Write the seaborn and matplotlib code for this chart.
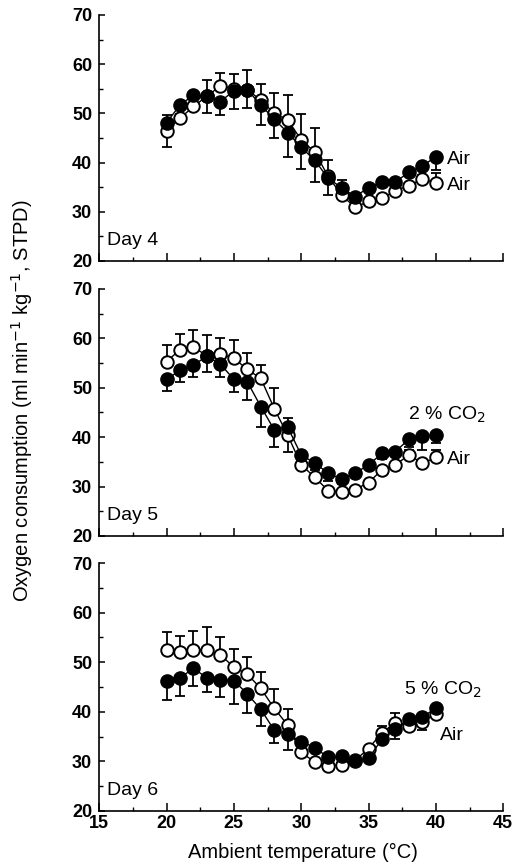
import numpy as np
import pandas as pd
import matplotlib
matplotlib.use("Agg")
import matplotlib.pyplot as plt
import seaborn as sns
from matplotlib.ticker import MultipleLocator

sns.set_theme(style="ticks")
plt.rcParams['font.family'] = ['Liberation Sans', 'DejaVu Sans']
plt.rcParams['text.color'] = 'black'
plt.rcParams['xtick.color'] = 'black'
plt.rcParams['ytick.color'] = 'black'
plt.rcParams['xtick.labelcolor'] = 'black'
plt.rcParams['ytick.labelcolor'] = 'black'

temperature = list(range(20, 41))

day4_open = [46.5, 49.0, 51.4, 53.5, 55.6, 55.0, 54.8, 52.7, 50.0, 48.7, 44.6, 42.2, 37.2, 33.4, 30.9, 32.1, 32.7, 34.3, 35.3, 36.7, 35.8]
day4_open_err = [3.2, 0.8, 0.6, 3.3, 2.7, 3.1, 4.0, 3.3, 4.1, 5.0, 5.3, 4.8, 3.3, 3.1, 0.5, 0.5, 0.5, 0.5, 0.5, 0.8, 2.0]
day4_filled = [48.1, 51.7, 53.7, 53.5, 52.4, 54.6, 54.8, 51.7, 48.8, 46.1, 43.1, 40.5, 36.8, 34.9, 33.1, 34.9, 36.0, 36.1, 38.0, 39.3, 41.2]
day4_filled_err = [4.9, 0.8, 0.8, 3.5, 2.7, 3.8, 3.8, 4.1, 3.9, 5.0, 4.5, 4.4, 3.4, 0.8, 0.5, 0.5, 0.5, 0.5, 0.5, 0.8, 2.8]

day5_open = [55.3, 57.7, 58.2, 56.5, 56.8, 56.0, 53.7, 51.9, 45.8, 40.4, 34.4, 31.9, 29.2, 29.0, 29.4, 30.8, 33.4, 34.4, 36.4, 34.7, 35.9]
day5_open_err = [3.4, 3.2, 3.4, 4.2, 3.2, 3.7, 3.4, 2.7, 4.1, 3.4, 0.8, 0.5, 0.5, 0.3, 0.3, 0.3, 0.5, 0.5, 1.0, 0.5, 1.5]
day5_filled = [51.7, 53.5, 54.6, 56.4, 54.8, 51.7, 51.2, 46.2, 41.5, 42.0, 36.4, 34.8, 32.7, 31.5, 32.7, 34.4, 36.7, 37.1, 39.6, 40.2, 40.4]
day5_filled_err = [2.3, 2.3, 2.4, 3.3, 2.6, 2.5, 3.7, 4.1, 3.4, 4.9, 1.0, 1.5, 1.5, 1.0, 0.8, 0.8, 1.2, 1.0, 1.5, 2.7, 1.5]

day6_open = [52.5, 52.1, 52.5, 52.5, 51.5, 49.0, 47.6, 44.7, 40.7, 37.3, 31.8, 29.9, 29.1, 29.3, 30.2, 32.6, 35.8, 37.8, 37.1, 38.0, 39.6]
day6_open_err = [3.5, 3.2, 3.7, 4.5, 3.5, 3.6, 3.4, 3.4, 3.8, 3.2, 0.5, 0.3, 0.3, 0.3, 0.3, 0.3, 1.4, 1.9, 0.5, 1.2, 1.0]
day6_filled = [46.3, 46.8, 48.8, 46.8, 46.5, 46.3, 43.6, 40.5, 36.3, 35.5, 34.0, 32.8, 30.8, 31.0, 30.1, 30.6, 34.5, 36.5, 38.5, 39.0, 40.7]
day6_filled_err = [3.9, 3.6, 3.6, 2.9, 3.5, 4.7, 3.8, 3.3, 2.5, 3.2, 0.5, 0.8, 0.5, 0.5, 0.3, 0.3, 0.8, 2.0, 0.8, 2.7, 1.5]

day_labels = ["Day 4", "Day 5", "Day 6"]
filled_labels = ["Air", "2 % CO$_2$", "5 % CO$_2$"]
open_labels = ["Air", "Air", "Air"]
filled_label_pos = [(40.8, 40.6), (37.9, 44.5), (37.6, 44.4)]
open_label_pos = [(40.8, 35.4), (40.8, 35.4), (40.3, 35.3)]

x_ticks = [15, 20, 25, 30, 35, 40, 45]
y_ticks = [20, 30, 40, 50, 60, 70]

panels = [
    (day4_open, day4_open_err, day4_filled, day4_filled_err),
    (day5_open, day5_open_err, day5_filled, day5_filled_err),
    (day6_open, day6_open_err, day6_filled, day6_filled_err),
]

fig = plt.figure(figsize=(5.22, 8.67), dpi=100)
ax_rects = [
    [0.19, 0.699, 0.774, 0.2837],
    [0.19, 0.3818, 0.774, 0.2849],
    [0.19, 0.0646, 0.774, 0.2860],
]

tick_font = dict(fontsize=13, fontweight='bold')
label_fs = 14
for i, (o, oe, f, fe) in enumerate(panels):
    ax = fig.add_axes(ax_rects[i])
    df = pd.DataFrame({"T": temperature, "open": o, "filled": f})
    zeros = np.zeros(len(temperature))
    # error bars (open: upward, filled: downward)
    ax.errorbar(temperature, o, yerr=[zeros, oe], fmt='none', ecolor='black',
                elinewidth=1.3, capsize=3.5, capthick=1.3, zorder=2)
    ax.errorbar(temperature, f, yerr=[fe, zeros], fmt='none', ecolor='black',
                elinewidth=1.3, capsize=3.5, capthick=1.3, zorder=2)
    sns.lineplot(data=df, x="T", y="open", ax=ax, color='black', linewidth=1.0,
                 marker='o', markersize=9, markerfacecolor='white',
                 markeredgecolor='black', markeredgewidth=1.4, zorder=3)
    sns.lineplot(data=df, x="T", y="filled", ax=ax, color='black', linewidth=1.0,
                 marker='o', markersize=9.5, markerfacecolor='black',
                 markeredgecolor='black', markeredgewidth=1.0, zorder=4)
    ax.set_xlim(15, 45)
    ax.set_ylim(20, 70)
    ax.set_xlabel("")
    ax.set_ylabel("")
    sns.despine(ax=ax)
    for s in ['left', 'bottom']:
        ax.spines[s].set_linewidth(1.2)
        ax.spines[s].set_color('black')
    ax.xaxis.set_minor_locator(MultipleLocator(2.5))
    ax.yaxis.set_minor_locator(MultipleLocator(5))
    ax.set_yticks(y_ticks)
    ax.set_yticklabels([str(v) for v in y_ticks], **tick_font)
    ax.set_xticks(x_ticks)
    if i == 2:
        ax.set_xticklabels([str(v) for v in x_ticks], **tick_font)
    else:
        ax.set_xticklabels([])
    ax.tick_params(axis='both', which='major', direction='in', length=6, width=1.1,
                   color='black', pad=3)
    ax.tick_params(axis='both', which='minor', direction='in', length=3, width=1.0,
                   color='black')
    ax.tick_params(axis='y', which='major', length=4, pad=5)
    ax.text(15.6, 24.2, day_labels[i], fontsize=label_fs, va='center', ha='left',
            color='black')
    fx, fy = filled_label_pos[i]
    ax.text(fx, fy, filled_labels[i], fontsize=label_fs, va='center', ha='left',
            color='black')
    ox, oy = open_label_pos[i]
    ax.text(ox, oy, open_labels[i], fontsize=label_fs, va='center', ha='left',
            color='black')
    ax.set_facecolor('white')

fig.text(0.042, 0.538, "Oxygen consumption (ml min$^{-1}$ kg$^{-1}$, STPD)",
         rotation=90, ha='center', va='center', fontsize=14.5, color='black')
fig.text(0.581, 0.017, "Ambient temperature (\u00b0C)", ha='center', va='center',
         fontsize=14.5, color='black')

fig.savefig("out.png", dpi=100, facecolor='white')
